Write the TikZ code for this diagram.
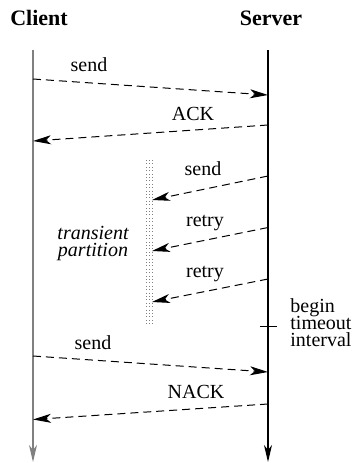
\documentclass[tikz,border=0pt]{standalone}
\usepackage{fontspec}
\setmainfont{Liberation Serif}
\usetikzlibrary{arrows.meta}

\begin{document}
\begin{tikzpicture}[x=0.5pt,y=-0.5pt,
	msg/.style={line width=0.5pt,dash pattern=on 4pt off 2.5pt,-{Stealth[length=9pt,width=4.5pt,inset=2.5pt]}},
	timeline/.style={line width=0.6pt,-{Stealth[length=8.5pt,width=4pt,inset=2.5pt]}},
	lbl/.style={anchor=base,inner sep=0pt,font=\fontsize{10}{12}\selectfont},
	head/.style={anchor=base,inner sep=0pt,font=\fontsize{11}{13}\selectfont\bfseries}]
	\useasboundingbox (0,0) rectangle (354,463);
	% who talks
	\node[head] (client) at (39,25) {Client};
	\node[head] (server) at (271,25) {Server};
	\coordinate (c0) at (33,50); \coordinate (c1) at (33,462);
	\coordinate (s0) at (268,50); \coordinate (s1) at (268,462);
	\draw[timeline,gray] (c0) -- (c1);
	\draw[timeline] (s0) -- (s1);
	% the partition
	\foreach \x in {146.5,149.5,152.5}
		\draw[gray,line width=0.4pt,dash pattern=on 0.5pt off 1.2pt] (\x,160) -- (\x,326);
	\node[lbl,font=\fontsize{10}{12}\selectfont\itshape] (trans) at (93,239) {transient};
	\node[lbl,font=\fontsize{10}{12}\selectfont\itshape] (part) at (93,256) {partition};
	% messages
	\coordinate (m1a) at (33,79); \coordinate (m1b) at (268,95);
	\draw[msg] (m1a) -- (m1b);
	\node[lbl] (send1) at (89,71) {send};
	\coordinate (m2a) at (268,125); \coordinate (m2b) at (33,141);
	\draw[msg] (m2a) -- (m2b);
	\node[lbl] (ack) at (193,120) {ACK};
	\coordinate (m3a) at (268,176); \coordinate (m3b) at (152,200);
	\draw[msg] (m3a) -- (m3b);
	\node[lbl] (send2) at (203,175) {send};
	\coordinate (m4a) at (268,227.5); \coordinate (m4b) at (152,251);
	\draw[msg] (m4a) -- (m4b);
	\node[lbl] (retry1) at (205,226) {retry};
	\coordinate (m5a) at (268,279); \coordinate (m5b) at (152,302);
	\draw[msg] (m5a) -- (m5b);
	\node[lbl] (retry2) at (205,277) {retry};
	% timeout mark
	\coordinate (t0) at (260,326); \coordinate (t1) at (277,326);
	\draw[line width=0.5pt] (t0) -- (t1);
	\node[lbl,anchor=base west] (tbegin) at (290,312) {begin};
	\node[lbl,anchor=base west] (ttime) at (290,329) {timeout};
	\node[lbl,anchor=base west] (tint) at (290,346) {interval};
	\coordinate (m6a) at (33,356); \coordinate (m6b) at (268,372);
	\draw[msg] (m6a) -- (m6b);
	\node[lbl] (send3) at (93,349) {send};
	\coordinate (m7a) at (268,404); \coordinate (m7b) at (33,419.5);
	\draw[msg] (m7a) -- (m7b);
	\node[lbl] (nack) at (196,398) {NACK};
\end{tikzpicture}
\end{document}
